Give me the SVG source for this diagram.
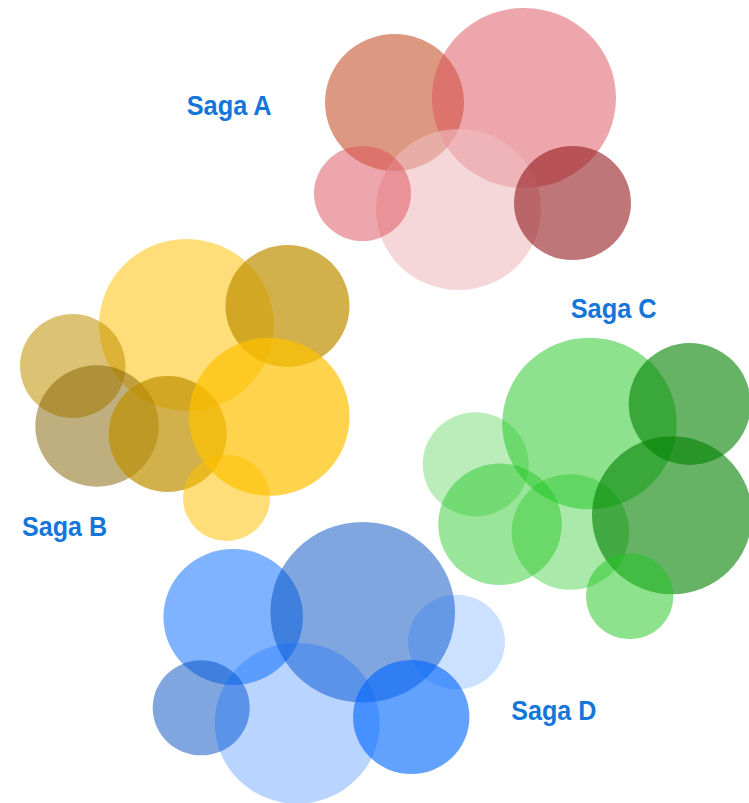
<svg xmlns="http://www.w3.org/2000/svg" width="749" height="803" viewBox="0 0 749 803">
<style>
.lbl{font-family:"Liberation Sans",Arial,sans-serif;font-weight:bold;font-size:27px;fill:#1476D9}
</style>
<rect width="749" height="803" fill="#ffffff"/>
<g id="saga-a">
<ellipse cx="394.5" cy="102.5" rx="69.5" ry="68.5" fill="#B93101" fill-opacity="0.5"/>
<ellipse cx="524" cy="98" rx="92" ry="90" fill="#DC505A" fill-opacity="0.5"/>
<ellipse cx="458.5" cy="209.5" rx="82.5" ry="80.5" fill="#F0BCC0" fill-opacity="0.6"/>
<ellipse cx="362.5" cy="193.5" rx="48.5" ry="47.5" fill="#DC505A" fill-opacity="0.5"/>
<ellipse cx="572.5" cy="203" rx="58.5" ry="57" fill="#931B1E" fill-opacity="0.6"/>
</g>
<g id="saga-b">
<ellipse cx="186.5" cy="325" rx="87.5" ry="86" fill="#FFC000" fill-opacity="0.52"/>
<ellipse cx="287.5" cy="306" rx="62" ry="61" fill="#BF9000" fill-opacity="0.7"/>
<ellipse cx="72.7" cy="366" rx="52.7" ry="52" fill="#BF9000" fill-opacity="0.55"/>
<ellipse cx="97" cy="426" rx="61.7" ry="60.7" fill="#7F6000" fill-opacity="0.5"/>
<ellipse cx="167.7" cy="434" rx="59" ry="58" fill="#BF9000" fill-opacity="0.7"/>
<ellipse cx="269.3" cy="416.7" rx="80.3" ry="79" fill="#FFC000" fill-opacity="0.7"/>
<ellipse cx="226.5" cy="498" rx="43.5" ry="43" fill="#FFC000" fill-opacity="0.52"/>
</g>
<g id="saga-c">
<ellipse cx="589.5" cy="423.5" rx="87.2" ry="85.8" fill="#1DC51D" fill-opacity="0.5"/>
<ellipse cx="689.7" cy="404" rx="61" ry="61" fill="#008000" fill-opacity="0.6"/>
<ellipse cx="475.7" cy="464.3" rx="53" ry="52" fill="#1DC51D" fill-opacity="0.3"/>
<ellipse cx="500" cy="524.3" rx="61.8" ry="60.7" fill="#1DC51D" fill-opacity="0.45"/>
<ellipse cx="570.5" cy="532" rx="58.8" ry="57.8" fill="#1DC51D" fill-opacity="0.38"/>
<ellipse cx="672" cy="515.3" rx="80" ry="79" fill="#008000" fill-opacity="0.6"/>
<ellipse cx="629.7" cy="596.3" rx="43.7" ry="43" fill="#1DC51D" fill-opacity="0.5"/>
</g>
<g id="saga-d">
<ellipse cx="233.2" cy="617" rx="69.8" ry="68" fill="#0066FF" fill-opacity="0.5"/>
<ellipse cx="362.7" cy="612.3" rx="92.3" ry="90.3" fill="#004DBF" fill-opacity="0.5"/>
<ellipse cx="456.5" cy="642" rx="48.5" ry="47.3" fill="#0066FF" fill-opacity="0.2"/>
<ellipse cx="201.2" cy="707.8" rx="48.5" ry="47.5" fill="#004DBF" fill-opacity="0.5"/>
<ellipse cx="297.2" cy="723.2" rx="82.5" ry="80.5" fill="#0066FF" fill-opacity="0.28"/>
<ellipse cx="411.2" cy="717" rx="58.2" ry="57" fill="#0066FF" fill-opacity="0.61"/>
</g>
<g id="labels">
<text class="lbl" x="186.7" y="115" textLength="85" lengthAdjust="spacingAndGlyphs">Saga A</text>
<text class="lbl" x="22" y="536" textLength="85" lengthAdjust="spacingAndGlyphs">Saga B</text>
<text class="lbl" x="570.7" y="318" textLength="86" lengthAdjust="spacingAndGlyphs">Saga C</text>
<text class="lbl" x="511.3" y="720" textLength="85" lengthAdjust="spacingAndGlyphs">Saga D</text>
</g>
</svg>
